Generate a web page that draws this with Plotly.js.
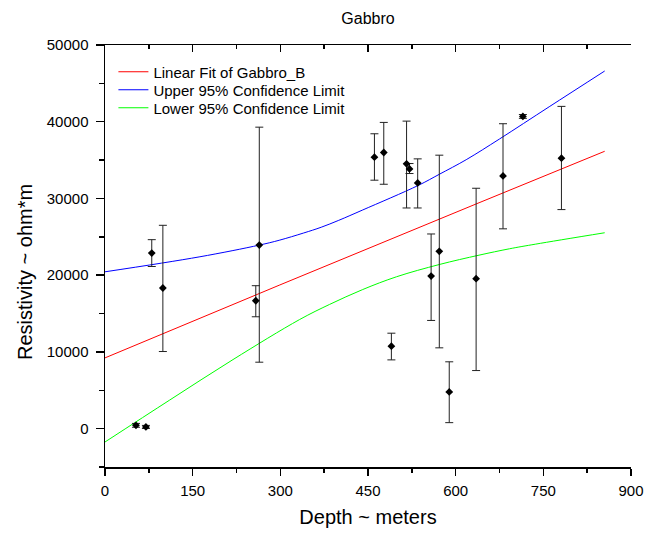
<!DOCTYPE html>
<html>
<head>
<meta charset="utf-8">
<script src="https://cdn.plot.ly/plotly-3.0.1.min.js"></script>
<style>html,body{margin:0;padding:0;background:#fff;}#chart{width:646px;height:533px;}</style>
</head>
<body>
<div id="chart"></div>
<script>
// Measured points (depth in m, resistivity in ohm*m)
const depth = [53, 70, 80, 99, 258, 264, 461, 477, 490, 516, 521, 535, 558, 572, 589, 635, 681, 715, 781];
const resistivity = [430, 220, 22880, 18330, 16670, 23930, 35380, 35990, 10750, 34510, 33850, 32030, 19880, 23110, 4790, 19540, 32940, 40690, 35250];
const errPlus = [250, 200, 1750, 8170, 1960, 15360, 3050, 3920, 1690, 5570, 700, 3130, 5490, 12530, 3920, 11790, 6800, 250, 6750];
const errMinus = [250, 200, 1750, 8280, 2090, 15270, 3000, 4140, 1790, 5750, 600, 3270, 5780, 12580, 4010, 11970, 6900, 250, 6700];

// Linear fit line
const fitX = [0, 298, 640, 855];
const fitY = [9220, 18690, 29440, 36150];

// Upper 95% confidence limit
const upperX = [0, 161, 264, 298, 340, 370, 400, 441, 536, 572, 618, 675, 760, 855];
const upperY = [20440, 22380, 23920, 24550, 25500, 26250, 27150, 28500, 31700, 33150, 35050, 37750, 41950, 46610];

// Lower 95% confidence limit
const lowerX = [0, 110, 219, 333, 384, 441, 499, 572, 640, 692, 737, 855];
const lowerY = [-1740, 3690, 9000, 14220, 16180, 18130, 19800, 21390, 22610, 23440, 24050, 25530];

const legendNames = ["Linear Fit of Gabbro_B", "Upper 95% Confidence Limit", "Lower 95% Confidence Limit"];
const titleText = "Gabbro";
const xTitle = "Depth ~ meters";
const yTitle = "Resistivity ~ ohm*m";

const FONT = "Liberation Sans, Arial, sans-serif";

const traces = [
  {
    x: fitX, y: fitY, type: "scatter", mode: "lines", name: legendNames[0], legend: "legend",
    line: {color: "#ff0000", width: 1}
  },
  {
    x: upperX, y: upperY, type: "scatter", mode: "lines", name: legendNames[1], legend: "legend2",
    line: {color: "#0000ff", width: 1, shape: "spline", smoothing: 1}
  },
  {
    x: lowerX, y: lowerY, type: "scatter", mode: "lines", name: legendNames[2], legend: "legend3",
    line: {color: "#00ff00", width: 1, shape: "spline", smoothing: 1}
  },
  {
    x: depth, y: resistivity, type: "scatter", mode: "markers", showlegend: false,
    marker: {symbol: "diamond", size: 6, color: "#000000"},
    error_y: {type: "data", array: errPlus, arrayminus: errMinus, symmetric: false,
              color: "#222222", thickness: 1, width: 4}
  },
  {
    x: [], y: [], xaxis: "x2", type: "scatter", mode: "markers", showlegend: false, hoverinfo: "skip"
  }
];

function legendAt(rowY) {
  return {x: 0.016, y: (467 - rowY) / 422, xanchor: "left", yanchor: "middle",
          bgcolor: "rgba(0,0,0,0)", borderwidth: 0,
          font: {family: FONT, size: 15, color: "#000"}};
}

const layout = {
  width: 646, height: 533,
  paper_bgcolor: "#ffffff", plot_bgcolor: "#ffffff",
  margin: {l: 105, r: 15, t: 45, b: 66},
  font: {family: FONT, color: "#000000", size: 15},
  title: {text: titleText, font: {family: FONT, size: 16, color: "#000"},
          x: 368 / 646, xanchor: "center", xref: "container", y: 1 - 18 / 533, yref: "container", yanchor: "middle"},
  showlegend: true,
  legend: legendAt(72),
  legend2: legendAt(90),
  legend3: legendAt(108),
  annotations: [
    {text: yTitle, xref: "paper", yref: "paper", x: (25 - 105) / 526, y: (467 - 272) / 422,
     xanchor: "center", yanchor: "middle", textangle: -90, showarrow: false,
     font: {family: FONT, size: 20, color: "#000"}}
  ],
  xaxis: {
    range: [0, 900], tick0: 0, dtick: 150, showgrid: false, zeroline: false,
    showline: true, linecolor: "#000", linewidth: 1.5,
    ticks: "outside", ticklen: 7, tickwidth: 1.5, tickcolor: "#000", ticklabelstandoff: 2,
    minor: {dtick: 75, ticks: "outside", ticklen: 4, tickwidth: 1.5, tickcolor: "#000", showgrid: false},
    tickfont: {family: FONT, size: 15},
    title: {text: xTitle, font: {family: FONT, size: 20}, standoff: 12},
    automargin: false
  },
  xaxis2: {
    overlaying: "x", side: "top", anchor: "y", range: [0, 900], tick0: 0, dtick: 150,
    showgrid: false, zeroline: false, showline: true, linecolor: "#000", linewidth: 1.5,
    ticks: "inside", ticklen: 7, tickwidth: 1.5, tickcolor: "#000", showticklabels: false,
    minor: {dtick: 75, ticks: "inside", ticklen: 4, tickwidth: 1.5, tickcolor: "#000", showgrid: false},
    automargin: false
  },
  yaxis: {
    range: [-5000, 50000], tick0: 0, dtick: 10000, tickformat: "d", showgrid: false, zeroline: false,
    showline: true, linecolor: "#000", linewidth: 1.5,
    ticks: "outside", ticklen: 8, tickwidth: 1.5, tickcolor: "#000", ticklabelstandoff: 4,
    minor: {dtick: 5000, ticks: "outside", ticklen: 5, tickwidth: 1.5, tickcolor: "#000", showgrid: false},
    tickfont: {family: FONT, size: 15},
    automargin: false
  }
};

Plotly.newPlot("chart", traces, layout, {staticPlot: true, displayModeBar: false});
</script>
</body>
</html>
